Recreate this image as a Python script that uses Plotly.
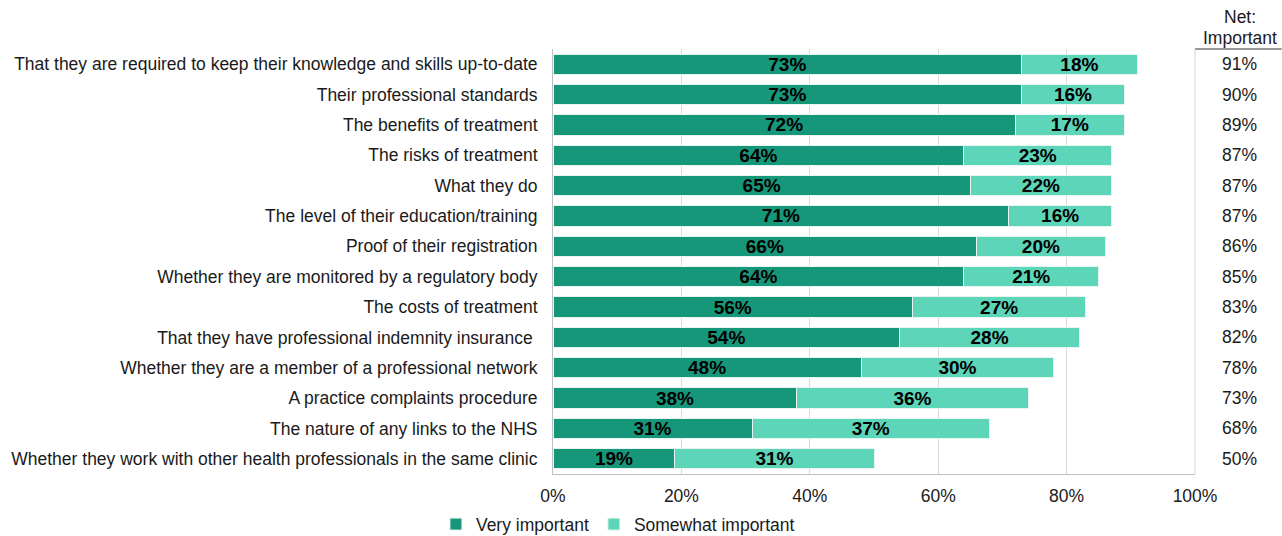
import plotly.graph_objects as go

categories = [
    "That they are required to keep their knowledge and skills up-to-date",
    "Their professional standards",
    "The benefits of treatment",
    "The risks of treatment",
    "What they do",
    "The level of their education/training",
    "Proof of their registration",
    "Whether they are monitored by a regulatory body",
    "The costs of treatment",
    "That they have professional indemnity insurance ",
    "Whether they are a member of a professional network",
    "A practice complaints procedure",
    "The nature of any links to the NHS",
    "Whether they work with other health professionals in the same clinic",
]
very_important = [73, 73, 72, 64, 65, 71, 66, 64, 56, 54, 48, 38, 31, 19]
somewhat_important = [18, 16, 17, 23, 22, 16, 20, 21, 27, 28, 30, 36, 37, 31]
net_important = [91, 90, 89, 87, 87, 87, 86, 85, 83, 82, 78, 73, 68, 50]
x_ticks = [0, 20, 40, 60, 80, 100]

DARK = "#17977a"
LIGHT = "#5dd5b9"
FONT = "Liberation Sans, Arial, sans-serif"
TXT = "#1a1a1a"
FS = 17.5

fig = go.Figure()
for name, vals, color in [
    ("Very important", very_important, DARK),
    ("Somewhat important", somewhat_important, LIGHT),
]:
    fig.add_trace(go.Bar(
        y=categories,
        x=vals,
        name=name,
        orientation="h",
        marker=dict(color=color, line=dict(color="#e8f4f0", width=1)),
        text=[f"<b>{v}%</b>" for v in vals],
        textposition="inside",
        insidetextanchor="middle",
        textangle=0,
        textfont=dict(family=FONT, size=19, color="black"),
        constraintext="none",
        hoverinfo="skip",
    ))

# Net column to the right of the plot area
NET_X = 1.07
for cat, v in zip(categories, net_important):
    fig.add_annotation(
        x=NET_X, y=cat, xref="paper", yref="y",
        text=f"{v}%", showarrow=False,
        font=dict(family=FONT, size=FS, color=TXT),
        xanchor="center", yanchor="middle",
    )
# column header, two lines
for line_text, y_pos in [("Net:", 1.075), ("Important", 1.027)]:
    fig.add_annotation(
        x=NET_X, y=y_pos, xref="paper", yref="paper",
        text=line_text, showarrow=False,
        font=dict(family=FONT, size=FS, color=TXT),
        xanchor="center", yanchor="middle",
    )
# header underline and right-hand border of the plot area
fig.add_shape(type="line", xref="paper", yref="paper", x0=1.0, x1=1.135, y0=1.0, y1=1.0,
              line=dict(color="#333333", width=1.2))
fig.add_shape(type="line", xref="paper", yref="paper", x0=1.0, x1=1.0, y0=0, y1=1.0,
              line=dict(color="#d4d4d4", width=1))

fig.update_layout(
    barmode="stack",
    bargap=0.33,
    width=1282,
    height=536,
    margin=dict(l=553, r=87, t=49, b=62, autoexpand=False),
    paper_bgcolor="white",
    plot_bgcolor="white",
    font=dict(family=FONT, size=FS, color=TXT),
    showlegend=True,
    legend=dict(
        orientation="h",
        traceorder="normal",
        xref="container", yref="container",
        x=0.482, xanchor="center",
        y=0.022, yanchor="middle",
        font=dict(family=FONT, size=FS, color=TXT),
        itemwidth=30,
    ),
    xaxis=dict(
        range=[0, 100],
        tickvals=x_ticks,
        ticktext=[f"{t}%" for t in x_ticks],
        showgrid=True,
        gridcolor="#d9d9d9",
        gridwidth=1,
        zeroline=False,
        showline=True,
        linecolor="#bfbfbf",
        linewidth=1,
        ticks="",
        ticklabelstandoff=6,
        tickfont=dict(family=FONT, size=FS, color=TXT),
    ),
    yaxis=dict(
        autorange="reversed",
        showgrid=False,
        zeroline=False,
        showline=True,
        linecolor="#bfbfbf",
        linewidth=1,
        ticks="",
        ticklabelstandoff=11,
        tickfont=dict(family=FONT, size=FS, color=TXT),
    ),
)

fig.write_html("out.html")
